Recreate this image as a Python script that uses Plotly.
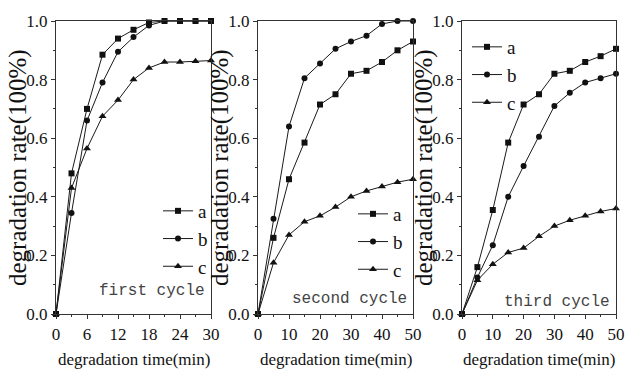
import plotly.graph_objects as go

W, H = 626, 373

t1 = [0, 3, 6, 9, 12, 15, 18, 21, 24, 27, 30]
a1 = [0, 0.48, 0.70, 0.885, 0.94, 0.97, 0.995, 1.0, 1.0, 1.0, 1.0]
b1 = [0, 0.345, 0.66, 0.79, 0.895, 0.945, 0.985, 1.0, 1.0, 1.0, 1.0]
c1 = [0, 0.43, 0.565, 0.675, 0.73, 0.80, 0.84, 0.86, 0.86, 0.863, 0.865]

t2 = [0, 5, 10, 15, 20, 25, 30, 35, 40, 45, 50]
a2 = [0, 0.26, 0.46, 0.585, 0.715, 0.75, 0.82, 0.83, 0.86, 0.90, 0.93]
b2 = [0, 0.325, 0.64, 0.805, 0.855, 0.905, 0.93, 0.95, 0.99, 1.0, 1.0]
c2 = [0, 0.175, 0.27, 0.315, 0.335, 0.365, 0.40, 0.42, 0.435, 0.45, 0.46]

t3 = [0, 5, 10, 15, 20, 25, 30, 35, 40, 45, 50]
a3 = [0, 0.16, 0.355, 0.585, 0.715, 0.75, 0.82, 0.83, 0.86, 0.88, 0.905]
b3 = [0, 0.125, 0.235, 0.40, 0.505, 0.605, 0.71, 0.755, 0.79, 0.805, 0.82]
c3 = [0, 0.115, 0.17, 0.21, 0.225, 0.265, 0.30, 0.32, 0.335, 0.35, 0.36]

series_names = ["a", "b", "c"]
symbols = ["square", "circle", "triangle-up"]
cycle_labels = ["first cycle", "second cycle", "third cycle"]
x_titles = "degradation time(min)"
y_titles = "degradation rate(100%)"

panels = [(t1, [a1, b1, c1], 30, 6), (t2, [a2, b2, c2], 50, 10), (t3, [a3, b3, c3], 50, 10)]

px_left = [56, 258, 462]
px_right = [211, 413, 616]
y_top, y_bot = 21, 314

fig = go.Figure()
legend_names = ["legend", "legend2", "legend3"]
for i, (t, ys, xmax, dt) in enumerate(panels):
    xa = "x" if i == 0 else f"x{i+1}"
    ya = "y" if i == 0 else f"y{i+1}"
    for j, (name, sym) in enumerate(zip(series_names, symbols)):
        fig.add_trace(go.Scatter(
            x=t, y=ys[j], name=name, mode="lines+markers",
            line=dict(color="#1a1a1a", width=1),
            marker=dict(symbol=sym, size=6 if sym != "triangle-up" else 7, color="#111"),
            xaxis=xa, yaxis=ya, legend=legend_names[i],
            legendgroup=f"g{i}{j}", cliponaxis=False,
        ))

font_serif = "Liberation Serif"
axis_common = dict(showline=True, linecolor="#333", linewidth=1.2, mirror=True,
                   ticks="outside", ticklen=4, tickcolor="#333", showgrid=False,
                   zeroline=False, tickfont=dict(family=font_serif, size=17, color="#111"))

layout = dict(width=W, height=H, margin=dict(l=0, r=0, t=0, b=0, autoexpand=False),
              paper_bgcolor="white", plot_bgcolor="white", showlegend=True)

cycle_y = [291, 299, 302]
annotations = []
for i, (t, ys, xmax, dt) in enumerate(panels):
    sfx = "" if i == 0 else str(i + 1)
    dom = [px_left[i] / W, px_right[i] / W]
    layout["xaxis" + sfx] = dict(axis_common, domain=dom, range=[0, xmax],
                                 tickmode="linear", tick0=0, dtick=dt,
                                 minor=dict(ticks="outside", ticklen=2, dtick=dt / 2, tickcolor="#333"),
                                 anchor="y" + sfx)
    layout["yaxis" + sfx] = dict(axis_common, domain=[1 - y_bot / H, 1 - y_top / H], range=[0, 1.0],
                                 tickmode="linear", tick0=0, dtick=0.2, tickformat=".1f",
                                 minor=dict(ticks="outside", ticklen=2, dtick=0.1, tickcolor="#333"),
                                 anchor="x" + sfx)
    annotations.append(dict(text=x_titles, xref="paper", yref="paper",
                            x=(px_left[i] + px_right[i]) / 2 / W, y=1 - 359 / H,
                            xanchor="center", yanchor="middle", showarrow=False,
                            font=dict(family=font_serif, size=17, color="#111")))
    annotations.append(dict(text=y_titles, xref="paper", yref="paper",
                            x=(px_left[i] - 38) / W, y=1 - 168 / H, textangle=-90,
                            xanchor="center", yanchor="middle", showarrow=False,
                            font=dict(family=font_serif, size=25, color="#111")))
    annotations.append(dict(text=cycle_labels[i], xref="paper", yref="paper",
                            x=(px_right[i] - 4) / W, y=1 - cycle_y[i] / H,
                            xanchor="right", yanchor="middle", showarrow=False,
                            font=dict(family="Liberation Mono", size=16, color="#444")))

leg_pos = [(158, 192), (353, 195), (467, 28)]
for i, ln in enumerate(legend_names):
    lx, ly = leg_pos[i]
    layout[ln] = dict(x=lx / W, y=1 - ly / H, xanchor="left", yanchor="top",
                      bgcolor="rgba(0,0,0,0)", font=dict(family=font_serif, size=19, color="#111"),
                      tracegroupgap=0, itemwidth=30)

layout["annotations"] = annotations
fig.update_layout(**layout)
fig.write_html("out.html", config={"displayModeBar": False},
               post_script="document.body.style.margin='0';")
